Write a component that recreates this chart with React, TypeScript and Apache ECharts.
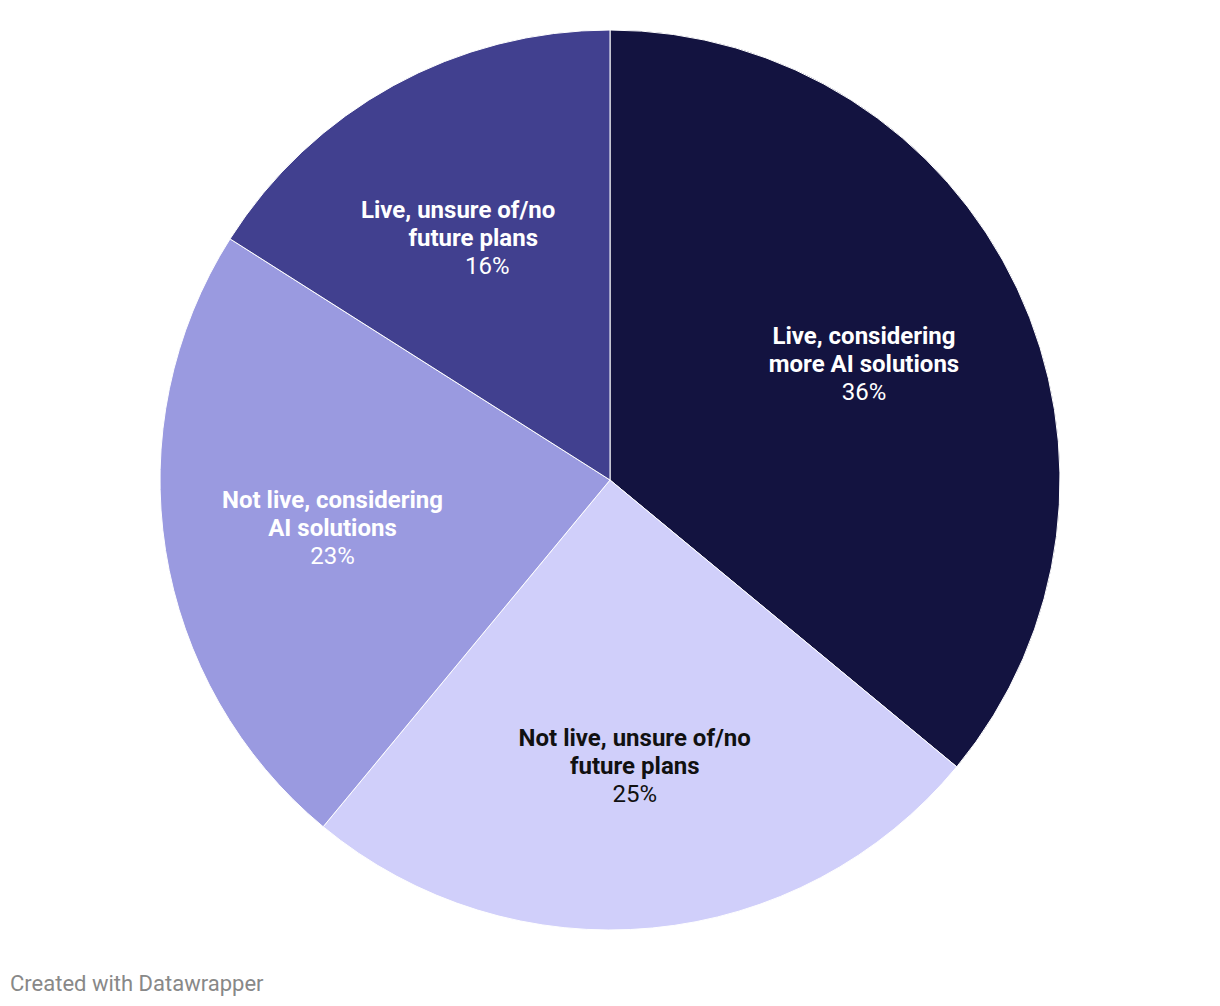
import React, { useEffect, useRef } from "react";
import * as echarts from "echarts";

// Survey answers, in clockwise order from 12 o'clock
const categories = [
  "Live, considering\nmore AI solutions",
  "Not live, unsure of/no\nfuture plans",
  "Not live, considering\nAI solutions",
  "Live, unsure of/no\nfuture plans",
];
const values = [36, 25, 23, 16];
const sliceColors = ["#131340", "#d0cffa", "#9a9ae0", "#41408f"];
const labelColors = ["#ffffff", "#111111", "#ffffff", "#ffffff"];
const footerText = "Created with Datawrapper";

const FONT = "Roboto, 'Noto Sans', sans-serif";
const LABEL_SIZE = 24;

export default function App() {
  const ref = useRef<HTMLDivElement>(null);

  useEffect(() => {
    if (!ref.current) return;
    const chart = echarts.init(ref.current, undefined, { renderer: "svg" });

    const center = [602, 472];
    const R = 450;

    // small per-label nudges (px) around the computed inside position
    const nudges: number[][] = [
      [-3, 5],
      [-2, 3],
      [3, 4],
      [14, 7],
    ];

    const slices = categories.map((name, i) => ({
      name,
      value: values[i],
      itemStyle: { color: sliceColors[i] },
    }));

    // Transparent copy of the ring that carries the labels further out than the
    // default inside position.
    const labelSlices = categories.map((name, i) => {
      const lines = name.split("\n");
      const c = labelColors[i];
      let first = `{b|${lines[0]}}`;
      let second = `{b|${lines[1]}}`;
      if (i === 3) {
        // the small top-left label sits slightly staggered line by line
        first = `{b1|${lines[0]}}`;
        second = `{b2|${lines[1]}}`;
      }
      const bold = {
        color: c, fontFamily: FONT, fontWeight: "bold", fontSize: LABEL_SIZE, lineHeight: 28,
      };
      return {
        name,
        value: values[i],
        itemStyle: { color: "rgba(0,0,0,0)" },
        label: {
          color: c,
          offset: nudges[i],
          formatter: `${first}\n${second}\n{p|${values[i]}%}`,
          rich: {
            b: bold,
            b1: { ...bold, padding: [0, 58, 0, 0] },
            b2: { ...bold, padding: [0, 28, 0, 0] },
            p: { color: c, fontFamily: FONT, fontSize: LABEL_SIZE, lineHeight: 28 },
          },
        },
      };
    });

    chart.setOption({
      animation: false,
      backgroundColor: "#ffffff",
      series: [
        {
          type: "pie",
          center,
          radius: [0, R],
          startAngle: 90,
          clockwise: true,
          silent: true,
          itemStyle: { borderColor: "#ffffff", borderWidth: 1 },
          label: { show: false },
          labelLine: { show: false },
          data: slices,
        },
        {
          type: "pie",
          center,
          radius: [112, R],
          startAngle: 90,
          clockwise: true,
          silent: true,
          z: 3,
          label: { show: true, position: "inside", align: "center" },
          labelLine: { show: false },
          data: labelSlices,
        },
      ],
      graphic: [
        {
          type: "text",
          left: 2,
          top: 964,
          style: {
            text: footerText,
            fill: "#888888",
            fontFamily: FONT,
            fontSize: 22,
          },
        },
      ],
    });

    return () => chart.dispose();
  }, []);

  return <div ref={ref} style={{ width: 1204, height: 990 }} />;
}
